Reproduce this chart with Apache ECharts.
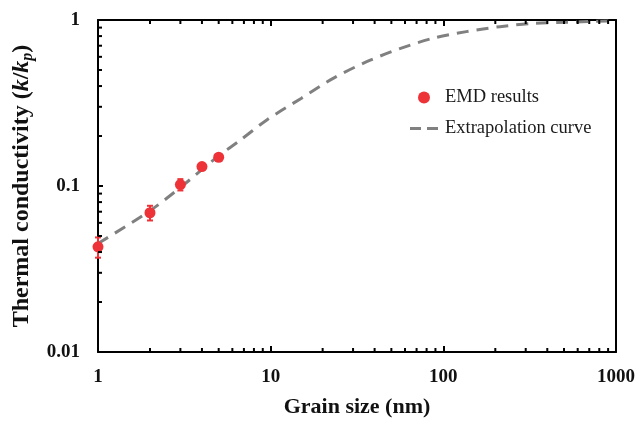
<!DOCTYPE html>
<html>
<head>
<meta charset="utf-8">
<script src="https://cdn.jsdelivr.net/npm/echarts@6/dist/echarts.min.js"></script>
<style>
  html, body { margin: 0; padding: 0; background: #fff; }
  #chart { width: 641px; height: 423px; }
</style>
</head>
<body>
<div id="chart"></div>
<script>
// EMD results (grain size nm, k/kp, error)
var emdSize = [1, 2, 3, 4, 5];
var emdValue = [0.043, 0.069, 0.102, 0.131, 0.149];
var emdErr = [0.006, 0.007, 0.008, 0.004, 0.004];

// extrapolation curve
var curveSize = [1, 2, 3, 5, 6.5, 9.5, 15, 23, 36, 56, 87, 136, 213, 331, 517, 1000];
var curveValue = [0.045, 0.071, 0.098, 0.152, 0.185, 0.25, 0.337, 0.445, 0.561, 0.672, 0.776, 0.851, 0.912, 0.955, 0.97, 0.99];

var xTicks = [1, 10, 100, 1000];
var yTicks = [0.01, 0.1, 1];

var RED = '#ee3338';
var GREY = '#808080';
var SERIF = '"Liberation Serif", "Times New Roman", serif';

// minor tick values between the decades
var xMinor = [];
for (var d = 0; d < xTicks.length - 1; d++) {
	for (var m = 2; m <= 9; m++) xMinor.push(xTicks[d] * m);
}
var yMinor = [];
for (var d = 0; d < yTicks.length - 1; d++) {
	for (var m = 2; m <= 9; m++) yMinor.push(+(yTicks[d] * m).toFixed(4));
}
var tickData = [];
xMinor.forEach(function(v) { tickData.push([v, 0]); tickData.push([v, 1]); });
yMinor.forEach(function(v) { tickData.push([v, 2]); });

// two dashes inside a 30x12 box (tiny corner dots fix the box size)
var dashIcon = 'path://M0,0h0.01v0.01h-0.01z M29.99,11.99h0.01v0.01h-0.01z M1,4.5h11v3h-11z M18,4.5h11v3h-11z';

var chart = echarts.init(document.getElementById('chart'));

var option = {
	animation: false,
	backgroundColor: '#fff',
	grid: { left: 98, right: 25, top: 20, bottom: 71 },
	legend: {
		orient: 'vertical',
		left: 404,
		top: 83,
		itemGap: 12,
		itemWidth: 32,
		itemHeight: 12,
		textStyle: { fontFamily: SERIF, fontSize: 18.5, color: '#1a1a1a' },
		data: [
			{ name: 'EMD results', icon: 'circle', itemStyle: { color: RED } },
			{ name: 'Extrapolation curve', icon: dashIcon, itemStyle: { color: GREY, borderWidth: 0 } }
		]
	},
	xAxis: [{
		type: 'log',
		logBase: 10,
		min: 1,
		max: 1000,
		position: 'bottom',
		name: 'Grain size (nm)',
		nameLocation: 'middle',
		nameGap: 44,
		nameTextStyle: { fontFamily: SERIF, fontSize: 22, fontWeight: 'bold', color: '#111' },
		axisLine: { lineStyle: { color: '#000', width: 2 } },
		axisTick: { inside: true, length: 6, lineStyle: { color: '#000', width: 2 } },
		axisLabel: {
			margin: 16, fontFamily: SERIF, fontSize: 19, fontWeight: 'bold', color: '#111',
			formatter: function(v) { return String(Math.round(v)); }
		},
		splitLine: { show: false }
	}, {
		type: 'log',
		logBase: 10,
		min: 1,
		max: 1000,
		position: 'top',
		axisLine: { lineStyle: { color: '#000', width: 2 } },
		axisTick: { inside: true, length: 6, lineStyle: { color: '#000', width: 2 } },
		axisLabel: { show: false },
		splitLine: { show: false }
	}],
	yAxis: [{
		type: 'log',
		logBase: 10,
		min: 0.01,
		max: 1,
		name: '{b|Thermal conductivity (}{i|k}{b|/}{i|k}{s|p}{b|)}',
		nameLocation: 'middle',
		nameRotate: 90,
		nameGap: 60,
		nameTextStyle: {
			color: '#111',
			rich: {
				b: { fontFamily: SERIF, fontSize: 24, fontWeight: 'bold', color: '#111', lineHeight: 28 },
				i: { fontFamily: SERIF, fontSize: 24, fontWeight: 'bold', fontStyle: 'italic', color: '#111', lineHeight: 28 },
				s: { fontFamily: SERIF, fontSize: 16, fontWeight: 'bold', fontStyle: 'italic', color: '#111', lineHeight: 28, verticalAlign: 'bottom', padding: [10, 0, 0, 0] }
			}
		},
		axisLine: { lineStyle: { color: '#000', width: 2 } },
		axisTick: { inside: true, length: 5, lineStyle: { color: '#000', width: 2 } },
		axisLabel: {
			margin: 18, fontFamily: SERIF, fontSize: 19, fontWeight: 'bold', color: '#111',
			formatter: function(v) { return String(+v.toFixed(4)); }
		},
		splitLine: { show: false }
	}, {
		type: 'log',
		logBase: 10,
		min: 0.01,
		max: 1,
		position: 'right',
		axisLine: { lineStyle: { color: '#000', width: 2 } },
		axisTick: { show: false },
		axisLabel: { show: false },
		splitLine: { show: false }
	}],
	series: [{
		name: 'Extrapolation curve',
		type: 'line',
		smooth: 0.3,
		symbol: 'none',
		color: GREY,
		lineStyle: { color: GREY, width: 3, type: [12, 8] },
		data: curveSize.map(function(x, i) { return [x, curveValue[i]]; }),
		z: 2
	}, {
		name: 'errors',
		type: 'custom',
		z: 3,
		data: emdSize.map(function(x, i) { return [x, emdValue[i] - emdErr[i], emdValue[i] + emdErr[i]]; }),
		renderItem: function(params, api) {
			var lo = api.coord([api.value(0), api.value(1)]);
			var hi = api.coord([api.value(0), api.value(2)]);
			var st = { stroke: RED, lineWidth: 2 };
			return {
				type: 'group',
				children: [
					{ type: 'line', shape: { x1: lo[0], y1: lo[1], x2: hi[0], y2: hi[1] }, style: st },
					{ type: 'line', shape: { x1: lo[0] - 3, y1: lo[1], x2: lo[0] + 3, y2: lo[1] }, style: st },
					{ type: 'line', shape: { x1: hi[0] - 3, y1: hi[1], x2: hi[0] + 3, y2: hi[1] }, style: st }
				]
			};
		}
	}, {
		name: 'EMD results',
		type: 'scatter',
		symbol: 'circle',
		symbolSize: 11,
		itemStyle: { color: RED, opacity: 1 },
		data: emdSize.map(function(x, i) { return [x, emdValue[i]]; }),
		z: 4
	}, {
		name: 'minorTicks',
		type: 'custom',
		silent: true,
		z: 5,
		data: tickData,
		renderItem: function(params, api) {
			var v = api.value(0), kind = api.value(1), p, shape;
			if (kind === 0) {
				p = api.coord([v, 0.01]);
				shape = { x1: p[0], y1: p[1], x2: p[0], y2: p[1] - 4 };
			} else if (kind === 1) {
				p = api.coord([v, 1]);
				shape = { x1: p[0], y1: p[1], x2: p[0], y2: p[1] + 4 };
			} else {
				p = api.coord([1, v]);
				shape = { x1: p[0], y1: p[1], x2: p[0] + 4, y2: p[1] };
			}
			return { type: 'line', shape: shape, style: { stroke: '#000', lineWidth: 2 } };
		}
	}]
};

chart.setOption(option);
</script>
</body>
</html>
